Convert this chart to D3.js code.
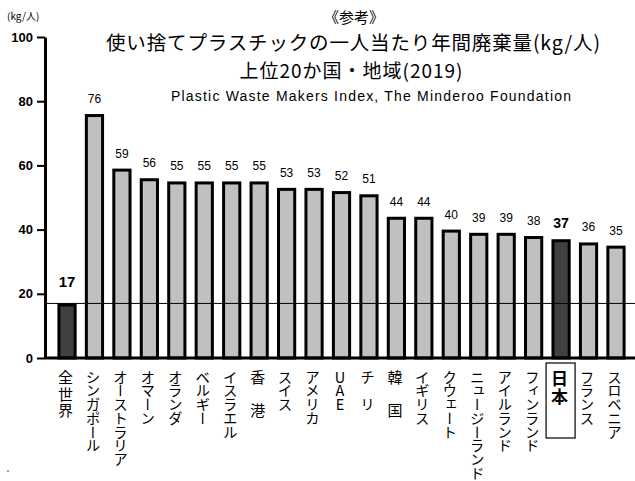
<!DOCTYPE html>
<html><head><meta charset="utf-8">
<script src="https://cdn.jsdelivr.net/npm/d3@7"></script>
<style>
html,body{margin:0;padding:0;background:#fff;}
svg{display:block;}
</style></head>
<body>
<script>
const categories = ["全世界","シンガポール","オーストラリア","オマーン","オランダ","ベルギー","イスラエル","香 港","スイス","アメリカ","UAE","チ リ","韓 国","イギリス","クウェート","ニュージーランド","アイルランド","フィンランド","日本","フランス","スロベニア"];
const values = [17,76,59,56,55,55,55,55,53,53,52,51,44,44,40,39,39,38,37,36,35];
const highlighted = ["全世界","日本"];
const kanjiLabels = ["全世界","香 港","韓 国"];
const yTicks = [0,20,40,60,80,100];
const titleLines = ["《参考》","使い捨てプラスチックの一人当たり年間廃棄量(kg/人)","上位20か国・地域(2019)"];
const subtitle = "Plastic Waste Makers Index, The Minderoo Foundation";
const unitLabel = "(kg/人)";
const worldValue = 17;

const W = 635, H = 481;
const svg = d3.select("body").append("svg").attr("width", W).attr("height", H);

const y = d3.scaleLinear().domain([0,100]).range([358,37]);
const x = d3.scaleBand().domain(categories).range([53.3,629.7]).paddingInner(0.3).paddingOuter(0.15);
const axisX = 45;
const numFont = "'Liberation Sans', Arial, sans-serif";
const jpFont = "'Noto Sans CJK JP', sans-serif";

// unit
svg.append("text").attr("x", 7).attr("y", 20).attr("font-family", jpFont).attr("font-size", 10).text(unitLabel);

// titles
svg.append("text").attr("x", 354).attr("y", 23).attr("text-anchor","middle").attr("font-family", jpFont).attr("font-size", 15).text(titleLines[0]);
svg.append("text").attr("x", 353).attr("y", 50).attr("text-anchor","middle").attr("font-family", jpFont).attr("font-size", 19.5)
  .attr("textLength", 494).attr("lengthAdjust", "spacing").text(titleLines[1]);
svg.append("text").attr("x", 351).attr("y", 77.5).attr("text-anchor","middle").attr("font-family", jpFont).attr("font-size", 19)
  .attr("textLength", 223).attr("lengthAdjust", "spacing").text(titleLines[2]);
svg.append("text").attr("x", 371).attr("y", 101).attr("text-anchor","middle").attr("font-family", numFont).attr("font-size", 14)
  .attr("textLength", 400).attr("lengthAdjust", "spacing").text(subtitle);

// bars
svg.append("g").selectAll("rect").data(categories).join("rect")
  .attr("x", d => x(d) + 1.5)
  .attr("width", x.bandwidth() - 3)
  .attr("y", (d,i) => y(values[i]) + 1.5)
  .attr("height", (d,i) => y(0) - y(values[i]) - 1.5)
  .attr("fill", d => highlighted.includes(d) ? "#404040" : "#c0c0c0")
  .attr("stroke", "#000").attr("stroke-width", 3);

// reference line
svg.append("line").attr("x1", axisX).attr("x2", W).attr("y1", y(worldValue)).attr("y2", y(worldValue))
  .attr("stroke", "#000").attr("stroke-width", 1);

// value labels
svg.append("g").selectAll("text").data(categories).join("text")
  .attr("x", d => x(d) + x.bandwidth()/2)
  .attr("y", (d,i) => y(values[i]) - (d === "全世界" ? 16 : 11))
  .attr("text-anchor","middle")
  .attr("font-family", numFont)
  .attr("font-size", d => d === "全世界" ? 15 : d === "日本" ? 14 : 12)
  .attr("font-weight", d => highlighted.includes(d) ? "bold" : "normal")
  .text((d,i) => values[i]);

// baseline
svg.append("line").attr("x1", axisX).attr("x2", W).attr("y1", y(0)).attr("y2", y(0))
  .attr("stroke", "#000").attr("stroke-width", 3);

// y axis
const yAxis = svg.append("g").attr("transform", `translate(${axisX},0)`)
  .call(d3.axisLeft(y).tickValues(yTicks).tickSize(8).tickSizeOuter(0).tickPadding(4));
yAxis.select(".domain").attr("stroke-width", 3);
yAxis.selectAll(".tick line").attr("stroke-width", 2);
yAxis.selectAll(".tick text").attr("font-family", numFont).attr("font-size", 13).attr("font-weight","bold").attr("fill","#000");

// x labels (vertical)
svg.append("g").selectAll("text").data(categories).join("text")
  .attr("x", d => x(d) + x.bandwidth()/2 - 1.5)
  .attr("y", 370)
  .attr("font-family", jpFont)
  .attr("font-size", d => d === "日本" ? 17 : kanjiLabels.includes(d) ? 15 : 14.5)
  .attr("font-weight", d => d === "日本" ? "bold" : "normal")
  .attr("letter-spacing", d => d === "日本" ? 1 : kanjiLabels.includes(d) ? 1.5 : -0.8)
  .style("writing-mode", "vertical-rl")
  .style("text-orientation", "upright")
  .text(d => d);

// box around 日本
const jx = x("日本") + x.bandwidth()/2;
svg.append("rect").attr("x", jx - 15).attr("y", 363).attr("width", 29).attr("height", 75)
  .attr("fill", "none").attr("stroke", "#000").attr("stroke-width", 1.2);

svg.append("circle").attr("cx", 8).attr("cy", 471).attr("r", 0.7).attr("fill", "#000");
</script>
</body></html>
